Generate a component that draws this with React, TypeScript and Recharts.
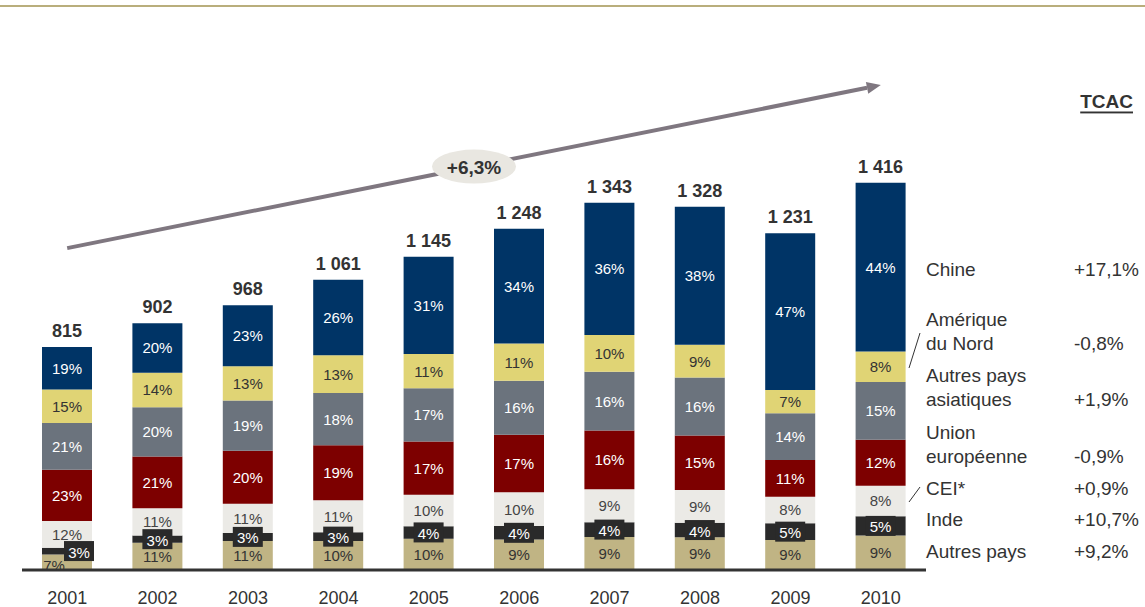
import { Bar, BarChart, LabelList, ReferenceLine, XAxis, YAxis } from 'recharts';

const years = ['2001', '2002', '2003', '2004', '2005', '2006', '2007', '2008', '2009', '2010'];
const totals = [815, 902, 968, 1061, 1145, 1248, 1343, 1328, 1231, 1416];

// shares in %, bottom of the stack first
const autresPays = [7, 11, 11, 10, 10, 9, 9, 9, 9, 9];
const inde = [3, 3, 3, 3, 4, 4, 4, 4, 5, 5];
const cei = [12, 11, 11, 11, 10, 10, 9, 9, 8, 8];
const unionEuropeenne = [23, 21, 20, 19, 17, 17, 16, 15, 11, 12];
const autresAsie = [21, 20, 19, 18, 17, 16, 16, 16, 14, 15];
const ameriqueNord = [15, 14, 13, 13, 11, 11, 10, 9, 7, 8];
const chine = [19, 20, 23, 26, 31, 34, 36, 38, 47, 44];

const seriesNames = ['Autres pays', 'Inde', 'CEI*', 'Union européenne', 'Autres pays asiatiques', 'Amérique du Nord', 'Chine'];
const tcac = ['+9,2%', '+10,7%', '+0,9%', '-0,9%', '+1,9%', '-0,8%', '+17,1%'];
const trendLabel = '+6,3%';
const trendStart = 1177;
const trendEnd = 1773;

const FONT = '"Liberation Sans", Arial, sans-serif';

const series = [
  { key: 'autres', pct: autresPays, fill: '#c0b484', text: '#333333' },
  { key: 'inde', pct: inde, fill: '#2a2a2a', text: '#ffffff' },
  { key: 'cei', pct: cei, fill: '#ebeae6', text: '#444444' },
  { key: 'ue', pct: unionEuropeenne, fill: '#7d0000', text: '#ffffff' },
  { key: 'asie', pct: autresAsie, fill: '#6b737d', text: '#ffffff' },
  { key: 'amn', pct: ameriqueNord, fill: '#e0d475', text: '#333333' },
  { key: 'chine', pct: chine, fill: '#003466', text: '#ffffff' },
];

const data = years.map((year, i) => {
  const sum = series.reduce((s, se) => s + se.pct[i], 0);
  const row: Record<string, number | string> = { year, total: totals[i] };
  series.forEach((se) => {
    row[se.key] = (totals[i] * se.pct[i]) / sum;
    row[`${se.key}Pct`] = se.pct[i];
  });
  return row;
});

const makeLabel = (key: string, color: string) => (props: any) => {
  const { x, y, width, height, value, index } = props;
  let cx = x + width / 2;
  let cy = y + height / 2;
  if (key === 'inde') {
    if (index === 0) cx += 12;
    return (
      <g>
        <rect x={cx - 15} y={cy - 10} width={30} height={20} fill="#2a2a2a" />
        <text x={cx} y={cy + 1} textAnchor="middle" dominantBaseline="central" fill="#fff" fontSize={15} fontFamily={FONT}>
          {value}%
        </text>
      </g>
    );
  }
  if (key === 'autres' && index === 0) {
    cx -= 13;
    cy += 3;
  }
  return (
    <text x={cx} y={cy} textAnchor="middle" dominantBaseline="central" fill={color} fontSize={15} fontFamily={FONT}>
      {value}%
    </text>
  );
};

const TotalLabel = (props: any) => {
  const { x, y, width, value } = props;
  return (
    <text x={x + width / 2} y={y - 10} textAnchor="middle" fill="#333" fontSize={18} fontWeight="bold" fontFamily={FONT}>
      {Number(value).toLocaleString('fr-FR').replace(/\s/g, ' ')}
    </text>
  );
};

const TrendArrow = (props: any) => {
  const { x1, y1, x2, y2 } = props;
  const ang = Math.atan2(y2 - y1, x2 - x1);
  const len = 14;
  const half = 6;
  const bx = x2 - len * Math.cos(ang);
  const by = y2 - len * Math.sin(ang);
  const px = -Math.sin(ang) * half;
  const py = Math.cos(ang) * half;
  const mx = (x1 + x2) / 2;
  const my = (y1 + y2) / 2;
  return (
    <g>
      <line x1={x1} y1={y1} x2={bx} y2={by} stroke="#7f7780" strokeWidth={4} />
      <polygon points={`${x2},${y2} ${bx + px},${by + py} ${bx - px},${by - py}`} fill="#7f7780" />
      <ellipse cx={mx} cy={my} rx={42} ry={17} fill="#e9e7e1" />
      <text x={mx} y={my + 1} textAnchor="middle" dominantBaseline="central" fill="#333" fontSize={19} fontWeight="bold" fontFamily={FONT}>
        {trendLabel}
      </text>
    </g>
  );
};

const legendLines: Record<string, string[]> = {
  'Union européenne': ['Union', 'européenne'],
  'Autres pays asiatiques': ['Autres pays', 'asiatiques'],
  'Amérique du Nord': ['Amérique', 'du Nord'],
};
const legendY = [551, 519, 488, 456, 399, 343, 269];

export default function App() {
  return (
    <div style={{ position: 'absolute', left: 0, top: 0, width: 1145, height: 607, background: '#fff' }}>
      <BarChart width={1145} height={607} data={data} margin={{ top: 23, right: 219, bottom: 7, left: 22 }} barSize={50}>
        <XAxis
          dataKey="year"
          height={30}
          axisLine={{ stroke: '#333', strokeWidth: 3 }}
          tickLine={false}
          tickSize={0}
          tickMargin={21}
          tick={{ fill: '#333', fontSize: 18, fontFamily: FONT }}
        />
        <YAxis hide domain={[0, 2000]} />
        {series.map((se) => (
          <Bar key={se.key} dataKey={se.key} stackId="a" fill={se.fill} isAnimationActive={false}>
            <LabelList dataKey={`${se.key}Pct`} content={makeLabel(se.key, se.text)} />
            {se.key === 'chine' && <LabelList dataKey="total" content={TotalLabel} />}
          </Bar>
        ))}
        <ReferenceLine
          segment={[
            { x: years[0], y: trendStart },
            { x: years[years.length - 1], y: trendEnd },
          ]}
          shape={TrendArrow}
          ifOverflow="visible"
        />
      </BarChart>
      <svg width={1145} height={607} style={{ position: 'absolute', left: 0, top: 0, pointerEvents: 'none' }}>
        <line x1={0} y1={6} x2={1145} y2={6} stroke="#b9ae7c" strokeWidth={2} />
        <text x={1133} y={101} textAnchor="end" dominantBaseline="central" fill="#333" fontSize={19} fontWeight="bold" fontFamily={FONT} textDecoration="underline">
          TCAC
        </text>
        {seriesNames.map((name, i) => {
          const lines = legendLines[name] || [name];
          return (
            <g key={name}>
              {lines.map((ln, j) => (
                <text key={ln} x={926} y={legendY[i] - (lines.length - 1 - j) * 24} dominantBaseline="central" fill="#333" fontSize={19} fontFamily={FONT}>
                  {ln}
                </text>
              ))}
              <text x={1074} y={legendY[i]} dominantBaseline="central" fill="#333" fontSize={19} fontFamily={FONT}>
                {tcac[i]}
              </text>
            </g>
          );
        })}
        <line x1={909} y1={368} x2={920} y2={333} stroke="#333" strokeWidth={1} />
        <line x1={909} y1={502} x2={920} y2={487} stroke="#333" strokeWidth={1} />
      </svg>
    </div>
  );
}
